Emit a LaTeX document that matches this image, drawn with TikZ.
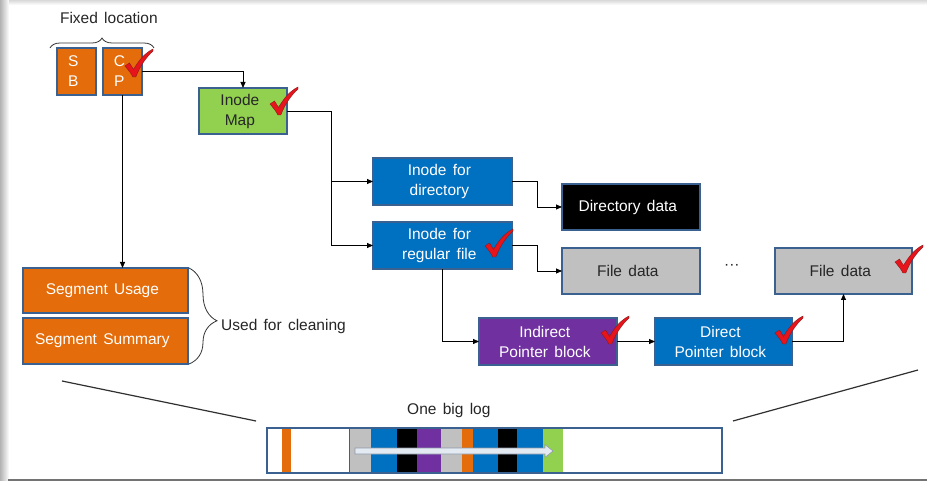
\documentclass[tikz,border=0pt]{standalone}
\usepackage{fontspec}
\setmainfont{Liberation Sans}
\usetikzlibrary{arrows.meta,decorations.pathreplacing,calc}
\definecolor{bordc}{HTML}{3B6190}
\definecolor{orng}{HTML}{E46C0A}
\definecolor{grn}{HTML}{92D050}
\definecolor{blu}{HTML}{0070C0}
\definecolor{purp}{HTML}{7030A0}
\definecolor{gry}{HTML}{C0C0C0}
\definecolor{tickred}{HTML}{E8141C}
\definecolor{tickdark}{HTML}{8B1A1A}
\definecolor{linec}{HTML}{303030}
\definecolor{arrfill}{HTML}{E4EAF2}
\definecolor{arrline}{HTML}{8E9BAA}
\begin{document}
\begin{tikzpicture}[x=1pt,y=-1pt,
  txt/.style={font=\fontsize{15.5}{20}\selectfont},
  box/.style={txt, draw=bordc, line width=1.3pt, inner sep=0pt, outer sep=0pt, align=center, text=white},
  arr/.style={-{Triangle[length=6pt,width=5pt]}, line width=0.8pt},
  conn/.style={line width=0.8pt},
  lbl/.style={txt, text=black!85, inner sep=0pt},
  brc/.style={decorate, line width=0.8pt, draw=black!80},
  okmark/.pic={
    \filldraw[fill=tickred, draw=tickdark, line width=0.4pt]
      (0,17) .. controls (2,15) .. (4.5,14) -- (8.5,20.5)
      .. controls (14,11) and (20,4) .. (28,0) -- (28,2)
      .. controls (21,8.5) and (15,17) .. (10.8,28) -- (8,28)
      .. controls (5,23) .. (0,17) -- cycle;
  }
]
\spaceskip=6.3pt plus 1pt minus 1pt\relax
\useasboundingbox (0,0) rectangle (927,481);
% page frame
\fill[white] (0,0) rectangle (927,481);
\shade[left color=black!30, right color=white] (0,0) rectangle (9,481);
\shade[top color=black!15, bottom color=white] (9,0) rectangle (927,5);
\fill[black!55] (8,478.5) rectangle (927,481);

% top nodes
\node[box, fill=orng, minimum width=39pt, minimum height=47pt] (sb) at (76.5,71.5) {S\\B};
\node[box, fill=orng, minimum width=39pt, minimum height=47pt] (cp) at (122.5,71.5) {C\\P};
\node[lbl] (fixed) at (112,18) {Fixed location};
\draw[brc, decoration={brace, amplitude=10pt}] (50,48) -- (154,48);

\node[box, fill=grn, text=black!85, minimum width=88pt, minimum height=46pt] (imap) at (243,111) {Inode\\Map};

\node[box, fill=blu, minimum width=139pt, minimum height=47pt] (idir) at (442.5,181.5) {Inode for\\directory};
\node[box, fill=blu, minimum width=139pt, minimum height=47pt] (ireg) at (442.5,245.5) {Inode for\\regular file};

\node[box, fill=black, minimum width=138pt, minimum height=46pt] (ddata) at (631,207) {Directory data};
\node[box, fill=gry, text=black!85, minimum width=138pt, minimum height=46pt] (fdata1) at (631,271) {File data};
\node[lbl] (dots) at (735,267) {···};
\node[box, fill=gry, text=black!85, minimum width=137pt, minimum height=46pt] (fdata2) at (843.5,271) {File data};

\node[box, fill=purp, minimum width=138pt, minimum height=47pt] (indir) at (548,341.5) {Indirect\\Pointer block};
\node[box, fill=blu, minimum width=137pt, minimum height=47pt] (direct) at (723.5,341.5) {Direct\\Pointer block};

\node[box, fill=orng, minimum width=165pt, minimum height=45pt] (segu) at (105.5,290.5) {Segment Usage};
\node[box, fill=orng, minimum width=165pt, minimum height=46pt] (segs) at (105.5,341) {Segment Summary};
\draw[brc, decoration={brace, amplitude=28pt, aspect=0.55}] (189,268) -- (189,364);
\node[lbl, anchor=west] (clean) at (221,326) {Used for cleaning};

% connectors
\draw[arr] (cp.east) -| (imap.north);
\coordinate (jn) at (331,0);
\draw[conn] (imap.east) -| (jn |- ireg.west);
\draw[arr] (jn |- ireg.west) -- (ireg.west);
\draw[arr] (jn |- idir.west) -- (idir.west);
\coordinate (jr) at (537,0);
\draw[arr] (idir.east) -| (jr |- ddata.west) -- (ddata.west);
\draw[arr] (ireg.east) -| (jr |- fdata1.west) -- (fdata1.west);
\draw[arr] (ireg.south) |- (indir.west);
\draw[arr] (indir.east) -- (direct.west);
\draw[arr] (direct.east) -| (fdata2.south);
\draw[arr] (cp.south) -- (cp.south |- segu.north);

% checks
\pic at (125,49) {okmark};
\pic at (270,87) {okmark};
\pic at (485,229) {okmark};
\pic at (601,316) {okmark};
\pic at (775,316) {okmark};
\pic at (895,245) {okmark};

% big log
\node[lbl] (biglog) at (452,410) {One big log};
\node[minimum width=455pt, minimum height=45pt, inner sep=0pt, outer sep=0pt] (log) at (494.5,450.5) {};
\fill[orng] (282,428) rectangle (291,473);
\fill[gry] (350,428) rectangle (371,473);
\fill[blu] (371,428) rectangle (397,473);
\fill[black] (397,428) rectangle (417,473);
\fill[purp] (417,428) rectangle (441,473);
\fill[gry] (441,428) rectangle (462,473);
\fill[orng] (462,428) rectangle (473,473);
\fill[blu] (473,428) rectangle (498,473);
\fill[black] (498,428) rectangle (517,473);
\fill[blu] (517,428) rectangle (543,473);
\fill[grn] (543,428) rectangle (563,473);
\draw[bordc, line width=0.8pt] (349,428) -- (349,473);
\draw[bordc, line width=1.3pt] (log.north west) rectangle (log.south east);
\filldraw[fill=arrfill, draw=arrline, line width=0.6pt]
  (355,448) -- (545,448) -- (545,444.5) -- (553,451) -- (545,457.5) -- (545,454) -- (355,454) -- cycle;

\coordinate (zl) at (62,381);
\coordinate (zle) at (256,421);
\coordinate (zr) at (918,370);
\coordinate (zre) at (733,421);
\draw[linec, line width=1.2pt] (zl) -- (zle);
\draw[linec, line width=1.2pt] (zr) -- (zre);
\end{tikzpicture}
\end{document}
